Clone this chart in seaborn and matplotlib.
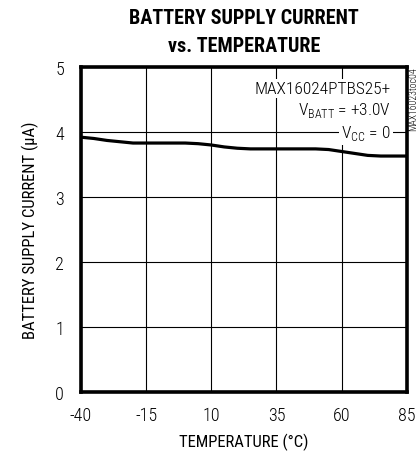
import numpy as np
import pandas as pd
import seaborn as sns
import matplotlib
matplotlib.use("Agg")
import matplotlib.pyplot as plt

# data
temps = [-40, -35, -30, -25, -20, -15, -10, -5, 0, 5, 10, 15, 20, 25, 30,
         35, 40, 45, 50, 55, 60, 65, 70, 75, 80, 85]
current = [3.92, 3.90, 3.87, 3.85, 3.83, 3.83, 3.83, 3.83, 3.83, 3.82, 3.80,
           3.77, 3.75, 3.74, 3.74, 3.74, 3.74, 3.74, 3.74, 3.73, 3.70, 3.67,
           3.64, 3.63, 3.63, 3.63]
xticks = [-40, -15, 10, 35, 60, 85]
yticks = [0, 1, 2, 3, 4, 5]

df = pd.DataFrame({"temp": temps, "current": current})

sns.set_theme(style="white")
fam = ["Roboto Condensed", "DejaVu Sans"]
plt.rcParams["font.family"] = fam
plt.rcParams["font.weight"] = "light"
plt.rcParams["mathtext.fontset"] = "custom"
plt.rcParams["mathtext.rm"] = "Roboto Condensed:light"
for k in ("text.color", "axes.labelcolor", "xtick.color", "ytick.color"):
    plt.rcParams[k] = "black"

fig = plt.figure(figsize=(4.19, 4.52), dpi=100)
ax = fig.add_axes([0.193, 0.1305, 0.778, 0.7191])

sns.lineplot(data=df, x="temp", y="current", color="black", linewidth=2.3, ax=ax, zorder=3)

ax.set_xlim(-40, 85)
ax.set_ylim(0, 5)
ax.set_xticks(xticks)
ax.set_yticks(yticks)
ax.set_xticklabels([str(t) for t in xticks])
ax.tick_params(axis="both", length=0, labelsize=13)
ax.tick_params(axis="y", pad=12)
ax.tick_params(axis="x", pad=10)
ax.grid(True, color="black", linewidth=0.8)
for s in ax.spines.values():
    s.set_linewidth(2.6)
    s.set_color("black")
    s.set_zorder(5)

ax.set_xlabel("TEMPERATURE (°C)", fontsize=12, labelpad=6)
ax.set_ylabel("BATTERY SUPPLY CURRENT (µA)", fontsize=12, labelpad=12)

box = dict(facecolor="white", edgecolor="none", pad=1.5)
ax.text(0.951, 0.935, "MAX16024PTBS25+", transform=ax.transAxes, ha="right",
        va="center", fontsize=12.5, bbox=box, zorder=4)
ax.text(0.951, 0.868, r"V$_{\mathregular{BATT}}$ = +3.0V", transform=ax.transAxes,
        ha="right", va="center", fontsize=12.5, bbox=box, zorder=4)
ax.text(0.951, 0.797, r"V$_{\mathregular{CC}}$ = 0", transform=ax.transAxes,
        ha="right", va="center", fontsize=12.5, bbox=box, zorder=4)

fig.text(0.986, 0.85, "MAX16023toc04", rotation=90, ha="center", va="top",
         fontsize=7)

fig.text(0.582, 0.959, "BATTERY SUPPLY CURRENT", ha="center", va="center",
         fontsize=14.5, fontweight="heavy")
fig.text(0.582, 0.897, "vs. TEMPERATURE", ha="center", va="center",
         fontsize=14.5, fontweight="heavy")

fig.savefig("out.png", dpi=100)
